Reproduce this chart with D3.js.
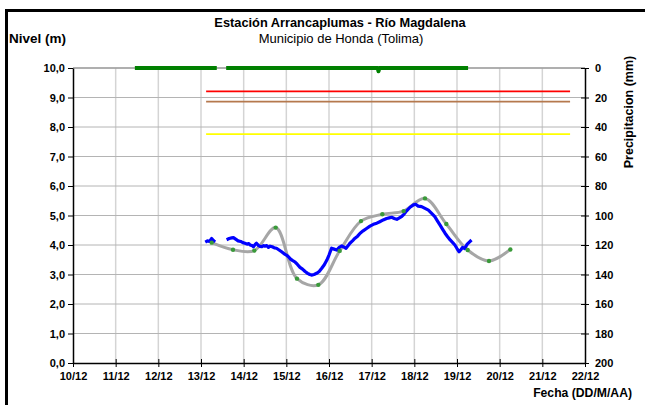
<!DOCTYPE html>
<html>
<head>
<meta charset="utf-8">
<script src="https://cdn.jsdelivr.net/npm/d3@7"></script>
<style>
  body { margin: 0; background: #fff; }
  svg { font-family: "Liberation Sans", Arial, sans-serif; }
</style>
</head>
<body>
<div id="ChartArea"></div>
<script>
// ------------------------------------------------------------------
// datos (día de diciembre, valor)
// ------------------------------------------------------------------
var dayTicks = [10, 11, 12, 13, 14, 15, 16, 17, 18, 19, 20, 21, 22];
var levelTicks = [0, 1, 2, 3, 4, 5, 6, 7, 8, 9, 10];
var precipTicks = [0, 20, 40, 60, 80, 100, 120, 140, 160, 180, 200];

// nivel observado (m)
var obsDays = [13.10, 13.15, 13.20, 13.25, 13.29, 13.33, null,
  13.60, 13.66, 13.72, 13.76, 13.82, 13.87, 13.93, 13.98, 14.03, 14.08, 14.12, 14.15, 14.20, 14.23,
  14.27, 14.30, 14.35, 14.39, 14.42, 14.47, 14.50, 14.54, 14.58, 14.62, 14.67, 14.72, 14.77, 14.83,
  14.89, 14.95, 15.00, 15.05, 15.10, 15.15, 15.20, 15.26, 15.32, 15.38, 15.44, 15.50, 15.55, 15.59,
  15.65, 15.71, 15.77, 15.83, 15.89, 15.95, 16.00, 16.06, 16.12, 16.18, 16.24, 16.30, 16.35, 16.40,
  16.45, 16.49, 16.55, 16.61, 16.67, 16.73, 16.80, 16.88, 16.96, 17.04, 17.12, 17.19, 17.27, 17.35,
  17.41, 17.47, 17.53, 17.59, 17.65, 17.70, 17.76, 17.82, 17.90, 17.98, 18.03, 18.09, 18.17, 18.25,
  18.33, 18.40, 18.48, 18.54, 18.60, 18.66, 18.72, 18.78, 18.84, 18.90, 18.95, 19.00, 19.05, 19.09,
  19.13, 19.18, 19.24, 19.29, 19.34];
var obsLevels = [4.10, 4.14, 4.12, 4.22, 4.15, 4.10, null,
  4.18, 4.22, 4.24, 4.25, 4.19, 4.14, 4.12, 4.08, 4.06, 4.03, 4.05, 4.00, 3.98, 3.94,
  4.02, 4.06, 3.98, 3.95, 3.94, 3.98, 3.96, 3.98, 3.92, 3.96, 3.94, 3.90, 3.89, 3.83,
  3.77, 3.70, 3.66, 3.60, 3.52, 3.47, 3.43, 3.34, 3.24, 3.18, 3.10, 3.04, 3.00, 2.98,
  3.00, 3.04, 3.10, 3.21, 3.33, 3.49, 3.66, 3.89, 3.86, 3.83, 3.92, 3.97, 3.93, 3.89,
  3.98, 4.06, 4.14, 4.23, 4.30, 4.40, 4.48, 4.56, 4.64, 4.70, 4.74, 4.79, 4.85, 4.90,
  4.92, 4.94, 4.90, 4.87, 4.92, 4.96, 5.05, 5.16, 5.28, 5.36, 5.38, 5.32, 5.30, 5.24,
  5.18, 5.08, 4.96, 4.82, 4.68, 4.54, 4.40, 4.28, 4.17, 4.08, 4.00, 3.88, 3.77, 3.84,
  3.92, 3.88, 4.03, 4.10, 4.17];

// pronóstico (m)
var fcDays = [13.25, 13.75, 14.25, 14.75, 15.25, 15.75, 16.25, 16.75, 17.25, 17.75, 18.25, 18.75, 19.25, 19.75, 20.25];
var fcLevels = [4.08, 3.84, 3.81, 4.59, 2.86, 2.65, 3.80, 4.81, 5.04, 5.15, 5.58, 4.71, 3.83, 3.46, 3.85];

// precipitación (mm)
var precipDays = [11.45, 13.37, null, 13.59, 17.14, 17.16, 17.18, 19.26];
var precipValues = [0, 0, null, 0, 0, 2.2, 0, 0];

// umbrales de nivel (m)
var alertNames = ["roja", "naranja", "amarilla"];
var alertLevels = [9.21, 8.86, 7.76];
var alertColors = ["#ff0000", "#b5794e", "#ffff00"];
var alertStart = 13.12, alertEnd = 21.65;

// ------------------------------------------------------------------
function write_chart ()
{
  var W = 645, H = 405;
  var margin = {top: 68, right: 60, bottom: 42, left: 73};
  var width = 585 - margin.left;
  var height = 363 - margin.top;

  var svg = d3.select("#ChartArea").append("svg")
      .attr("width", W)
      .attr("height", H);

  // marco
  svg.append("rect")
      .attr("x", 6.5).attr("y", 10.5)
      .attr("width", W + 20).attr("height", H + 20)
      .attr("fill", "none").attr("stroke", "#000").attr("stroke-width", 3);

  var g = svg.append("g")
      .attr("transform", "translate(" + margin.left + "," + margin.top + ")");

  var x = d3.scaleLinear().domain([10, 22]).range([0, width]);
  var y = d3.scaleLinear().domain([0, 10]).range([height, 0]);
  var yp = d3.scaleLinear().domain([0, 200]).range([0, height]);

  // grilla
  g.append("g").selectAll("line")
    .data(dayTicks.slice(1, -1))
    .enter().append("line")
      .attr("x1", function(d) { return x(d); })
      .attr("x2", function(d) { return x(d); })
      .attr("y1", 0).attr("y2", height)
      .attr("stroke", "#d4d4d4").attr("stroke-width", 1.5);

  g.append("g").selectAll("line")
    .data(levelTicks.slice(1))
    .enter().append("line")
      .attr("x1", 0).attr("x2", width)
      .attr("y1", function(d) { return y(d); })
      .attr("y2", function(d) { return y(d); })
      .attr("stroke", "#b4b4b4").attr("stroke-width", 1);

  // umbrales
  g.selectAll(".alerta")
    .data(alertLevels)
    .enter().append("line")
      .attr("class", "alerta")
      .attr("x1", x(alertStart)).attr("x2", x(alertEnd))
      .attr("y1", function(d) { return y(d); })
      .attr("y2", function(d) { return y(d); })
      .attr("stroke", function(d, i) { return alertColors[i]; })
      .attr("stroke-width", 1.8);

  // pronóstico (línea suavizada gris + puntos verdes)
  var fc = fcDays.map(function(d, i) { return [d, fcLevels[i]]; });
  g.append("path")
      .datum(fc)
      .attr("fill", "none")
      .attr("stroke", "#a6a6a6")
      .attr("stroke-width", 3)
      .attr("d", d3.line()
        .curve(d3.curveCatmullRom.alpha(0.5))
        .x(function(d) { return x(d[0]); })
        .y(function(d) { return y(d[1]); }));

  // nivel observado
  var obs = obsDays.map(function(d, i) { return [d, obsLevels[i]]; });
  g.append("path")
      .datum(obs)
      .attr("fill", "none")
      .attr("stroke", "#0000ff")
      .attr("stroke-width", 3.2)
      .attr("stroke-linejoin", "round")
      .attr("d", d3.line()
        .defined(function(d) { return d[0] !== null; })
        .x(function(d) { return x(d[0]); })
        .y(function(d) { return y(d[1]); }));

  g.selectAll(".pto")
    .data(fc)
    .enter().append("circle")
      .attr("class", "pto")
      .attr("cx", function(d) { return x(d[0]); })
      .attr("cy", function(d) { return y(d[1]); })
      .attr("r", 2.2)
      .attr("fill", "#3a9a3a");

  // borde superior
  g.append("line")
      .attr("x1", 0).attr("x2", width).attr("y1", 0).attr("y2", 0)
      .attr("stroke", "#a0a0a0").attr("stroke-width", 1.5);

  // precipitación
  var pr = precipDays.map(function(d, i) { return [d, precipValues[i]]; });
  g.append("path")
      .datum(pr)
      .attr("fill", "none")
      .attr("stroke", "#008000")
      .attr("stroke-width", 4)
      .attr("stroke-linejoin", "round")
      .attr("d", d3.line()
        .defined(function(d) { return d[0] !== null; })
        .x(function(d) { return x(d[0]); })
        .y(function(d) { return yp(d[1]); }));

  // ejes
  var fmtNivel = function(d) { return d3.format(".1f")(d).replace(".", ","); };

  var axL = g.append("g")
      .call(d3.axisLeft(y).tickValues(levelTicks).tickFormat(fmtNivel).tickSizeInner(5).tickSizeOuter(0).tickPadding(3));

  var axB = g.append("g")
      .attr("transform", "translate(0," + height + ")")
      .call(d3.axisBottom(x).tickValues(dayTicks).tickFormat(function(d) { return d + "/12"; })
        .tickSizeInner(4).tickSizeOuter(0).tickPadding(5));
  axB.selectAll(".tick line").attr("y1", -4);

  var axR = g.append("g")
      .attr("transform", "translate(" + width + ",0)")
      .call(d3.axisRight(yp).tickValues(precipTicks).tickSizeInner(4).tickSizeOuter(0).tickPadding(6));
  axR.selectAll(".tick line").attr("x1", -4);

  [axL, axB, axR].forEach(function(a) {
    a.select(".domain").attr("stroke", "#000").attr("stroke-width", 1.5);
    a.selectAll(".tick line").attr("stroke", "#000");
    a.selectAll("text")
      .attr("fill", "#000")
      .style("font-size", "11px")
      .style("font-weight", "bold");
  });

  // textos
  svg.append("text")
      .attr("x", 340).attr("y", 27)
      .attr("text-anchor", "middle")
      .style("font-size", "12.8px").style("font-weight", "bold")
      .text("Estación Arrancaplumas - Río Magdalena");

  svg.append("text")
      .attr("x", 341).attr("y", 43)
      .attr("text-anchor", "middle")
      .style("font-size", "13px")
      .text("Municipio de Honda (Tolima)");

  svg.append("text")
      .attr("x", 9).attr("y", 43)
      .style("font-size", "13.5px").style("font-weight", "bold")
      .text("Nivel (m)");

  svg.append("text")
      .attr("transform", "translate(633,112) rotate(-90)")
      .attr("text-anchor", "middle")
      .style("font-size", "12.5px").style("font-weight", "bold")
      .text("Precipitacion (mm)");

  svg.append("text")
      .attr("x", 632).attr("y", 397)
      .attr("text-anchor", "end")
      .style("font-size", "12.2px").style("font-weight", "bold")
      .text("Fecha (DD/M/AA)");
}

write_chart();
</script>
</body>
</html>
